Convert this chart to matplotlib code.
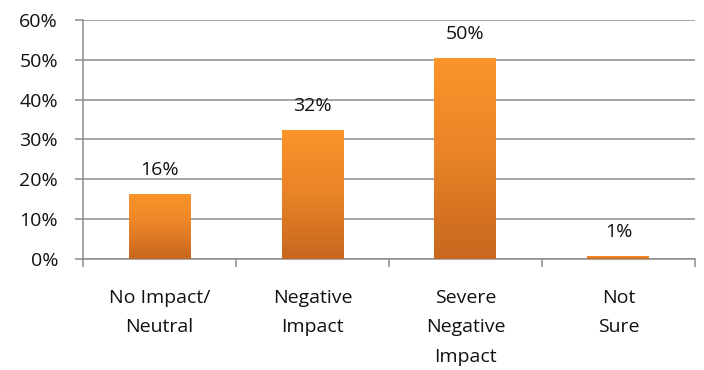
import matplotlib
matplotlib.use("Agg")
import matplotlib.pyplot as plt
import numpy as np
from matplotlib.colors import LinearSegmentedColormap
from matplotlib.ticker import FixedLocator, PercentFormatter

categories = ["No Impact/\nNeutral", "Negative\nImpact", "Severe\nNegative\nImpact", "Not\nSure"]
shares = [0.163, 0.324, 0.504, 0.008]
y_ticks = [0.0, 0.1, 0.2, 0.3, 0.4, 0.5, 0.6]

plt.rcParams["font.family"] = ["Open Sans", "DejaVu Sans"]
FS = 14
TXT = "#111111"

fig = plt.figure(figsize=(7.04, 3.70), dpi=100)
ax = fig.add_axes([0.118, 0.30, 0.869, 0.646])

x = np.arange(len(categories))
bars = ax.bar(x, shares, width=0.405, color="none", edgecolor="none", zorder=3)

# vertical orange gradient inside each bar
cmap = LinearSegmentedColormap.from_list("orange_grad", ["#C7671F", "#E98327", "#FA952B"])
grad = np.linspace(0, 1, 256).reshape(-1, 1)
for b in bars:
    x0, w, h = b.get_x(), b.get_width(), b.get_height()
    im = ax.imshow(grad, cmap=cmap, aspect="auto", origin="lower",
                   extent=[x0, x0 + w, 0, h], zorder=3, interpolation="bilinear")
    im.set_clip_path(b)
ax.set_xlim(-0.5, len(categories) - 0.5)
ax.set_ylim(0, 0.6)

# value labels
for b, v in zip(bars, shares):
    ax.annotate(f"{v * 100:.0f}%", (b.get_x() + b.get_width() / 2, v),
                xytext=(0, 19), textcoords="offset pixels",
                ha="center", va="baseline", fontsize=FS, color=TXT)

grid_c = "#8c8c8c"
ax.yaxis.set_major_locator(FixedLocator(y_ticks))
ax.yaxis.set_major_formatter(PercentFormatter(1.0, decimals=0))
ax.grid(axis="y", color=grid_c, linewidth=1.1, zorder=0)
ax.set_axisbelow(True)

ax.set_xticks(x)
ax.set_xticklabels(categories, fontsize=FS, linespacing=1.82, color=TXT)
ax.set_xticks(np.arange(-0.5, len(categories)), minor=True)
ax.tick_params(axis="x", which="major", length=0, pad=21.5)
ax.tick_params(axis="x", which="minor", length=6, width=1.1, color=grid_c, direction="out")
ax.tick_params(axis="y", which="major", length=6, width=1.1, color=grid_c,
               labelsize=FS, labelcolor=TXT, pad=12)

for s in ["top", "right"]:
    ax.spines[s].set_visible(False)
for s in ["left", "bottom"]:
    ax.spines[s].set_color(grid_c)
    ax.spines[s].set_linewidth(1.1)

fig.savefig("out.png", dpi=100, facecolor="white")
